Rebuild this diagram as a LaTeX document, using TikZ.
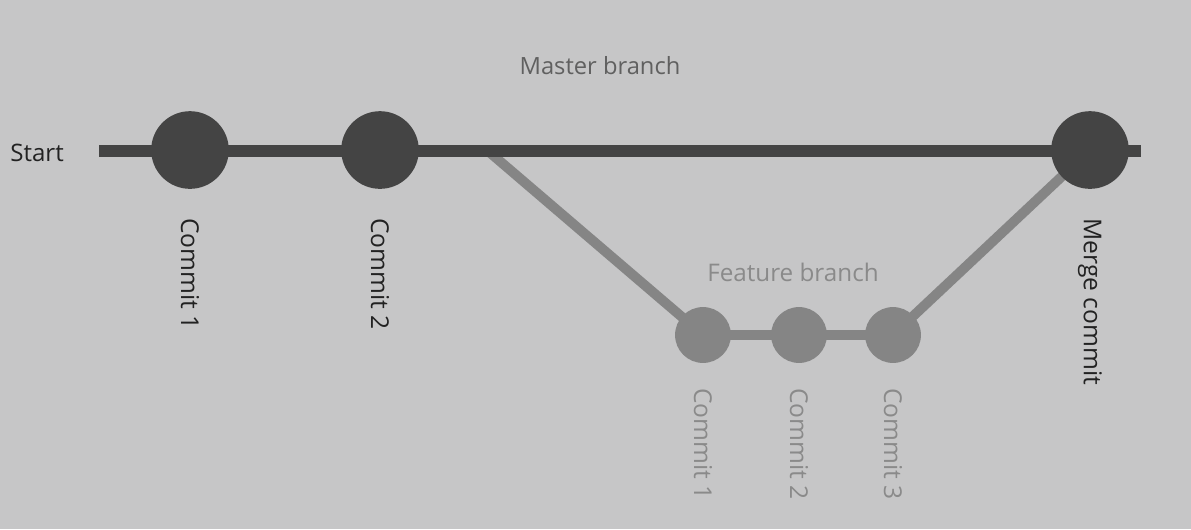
\documentclass[tikz,border=0pt]{standalone}
\usepackage{fontspec}
\setmainfont{Open Sans}
\usepackage{tikz}
\definecolor{bgray}{RGB}{198,198,199}
\definecolor{master}{RGB}{68,68,68}
\definecolor{feature}{RGB}{133,133,133}
\definecolor{darktext}{RGB}{34,34,34}
\definecolor{lighttext}{RGB}{138,138,138}

\tikzset{
  bigdot/.style={circle,fill=master,minimum size=44.2pt,inner sep=0pt},
  smalldot/.style={circle,fill=feature,minimum size=31.8pt,inner sep=0pt},
  mainline/.style={line width=6.4pt,master},
  featline/.style={line width=5.6pt,feature},
  downlabel/.style={rotate=-90,anchor=west,inner sep=0pt,font=\fontsize{14}{16}\selectfont}
}

\begin{document}
\begin{tikzpicture}[x=0.02cm,y=-0.02cm]
\fill[bgray] (0,0) rectangle (1191,529);
\useasboundingbox (0,0) rectangle (1191,529);
\coordinate (ms) at (99,151);
\coordinate (me) at (1141,151);
\coordinate (c1) at (190,150);
\coordinate (c2) at (380,150);
\coordinate (mc) at (1090,150);
\coordinate (fork) at (488,151);
\coordinate (f1) at (703,335);
\coordinate (f2) at (799,335);
\coordinate (f3) at (893,335);

\draw[featline] (fork) -- (f1) -- (f2) -- (f3) -- (mc);
\draw[mainline] (ms) -- (me);

\node[bigdot] (dot1) at (c1) {};
\node[bigdot] (dot2) at (c2) {};
\node[bigdot] (merge) at (mc) {};
\node[smalldot] (fdot1) at (f1) {};
\node[smalldot] (fdot2) at (f2) {};
\node[smalldot] (fdot3) at (f3) {};

\node[darktext,anchor=west,inner sep=0pt,font=\fontsize{13.7}{15}\selectfont] (start) at (10,153) {Start};
\node[master!85,font=\fontsize{13.5}{15}\selectfont] (mlabel) at (600,66) {Master branch};
\node[lighttext,font=\fontsize{13.8}{15}\selectfont] (flabel) at (793,272) {Feature branch};

\node[downlabel,darktext] (l1) at (190,218) {Commit 1};
\node[downlabel,darktext] (l2) at (380,218) {Commit 2};
\node[downlabel,darktext] (lm) at (1090,218) {Merge commit};
\node[downlabel,lighttext] (fl1) at (703,388) {Commit 1};
\node[downlabel,lighttext] (fl2) at (799,388) {Commit 2};
\node[downlabel,lighttext] (fl3) at (893,388) {Commit 3};
%\draw[gray] (0,0) grid[step=100] (1191,529);
\end{tikzpicture}
\end{document}
